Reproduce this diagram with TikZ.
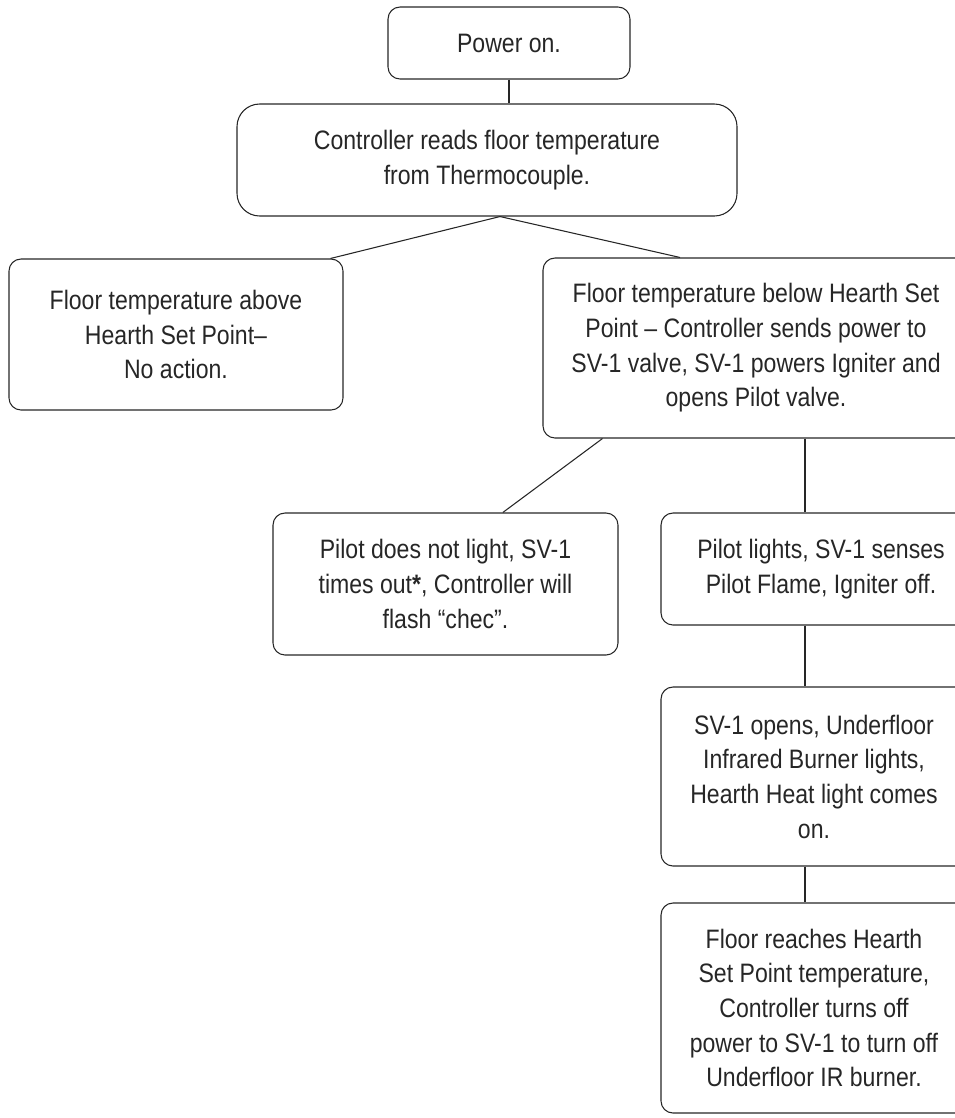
\documentclass[tikz,border=0pt]{standalone}
\usepackage{fontspec}
\setmainfont{Liberation Sans}[FakeStretch=0.865]
\usetikzlibrary{positioning}
\tikzstyle{stepNode} = [rectangle, draw=black!85, line width=0.8pt, rounded corners=9pt, text=black!85, align=center, font=\fontsize{20}{26}\selectfont, inner sep=0pt]
\tikzstyle{link} = [draw=black!85, line width=0.8pt]

\begin{document}
\begin{tikzpicture}[x=0.75pt,y=-0.75pt]
        \useasboundingbox (0,0) rectangle (955,1118);
        \clip (0,0) rectangle (955,1118);

        \node (power) [stepNode, minimum width=181.5pt, minimum height=54pt] at (509,43) {Power on.};
        \node (ctrl) [stepNode, minimum width=375pt, minimum height=84pt, rounded corners=17pt] at (487,160)
        {Controller reads floor temperature\\from Thermocouple.};
        \node (above) [stepNode, minimum width=250.5pt, minimum height=113.25pt] at (176,334.5)
        {Floor temperature above\\Hearth Set Point--\\No action.};
        \node (below) [stepNode, minimum width=319.5pt, minimum height=135pt] at (756,348)
        {Floor temperature below Hearth Set\\Point -- Controller sends power to\\SV-1 valve, SV-1 powers Igniter and\\opens Pilot valve.};
        \node (notlit) [stepNode, minimum width=258.75pt, minimum height=106.5pt] at (445.5,584)
        {Pilot does not light, SV-1\\times out\textbf{*}, Controller will\\flash “chec”.};
        \node (lit) [stepNode, minimum width=240pt, minimum height=84pt] at (821,569)
        {Pilot lights, SV-1 senses\\Pilot Flame, Igniter off.};
        \node (opens) [stepNode, minimum width=229.5pt, minimum height=134.25pt] at (814,776.5)
        {SV-1 opens, Underfloor\\Infrared Burner lights,\\Hearth Heat light comes\\on.};
        \node (reach) [stepNode, minimum width=229.5pt, minimum height=157.5pt] at (814,1008)
        {Floor reaches Hearth\\Set Point temperature,\\Controller turns off\\power to SV-1 to turn off\\Underfloor IR burner.};

        \coordinate (spine) at (805,0);

        \draw [link] (power.south) -- (power.south |- ctrl.north);
        \draw [link] ([xshift=9.75pt]ctrl.south) -- ([xshift=-9.75pt]above.north east);
        \draw [link] ([xshift=9.75pt]ctrl.south) -- ([xshift=-57pt]below.north);
        \draw [link] ([xshift=45pt]below.south west) -- ([xshift=43pt]notlit.north);
        \draw [link] (spine |- below.south) -- (spine |- lit.north);
        \draw [link] (spine |- lit.south) -- (spine |- opens.north);
        \draw [link] (spine |- opens.south) -- (spine |- reach.north);
\end{tikzpicture}
\end{document}
